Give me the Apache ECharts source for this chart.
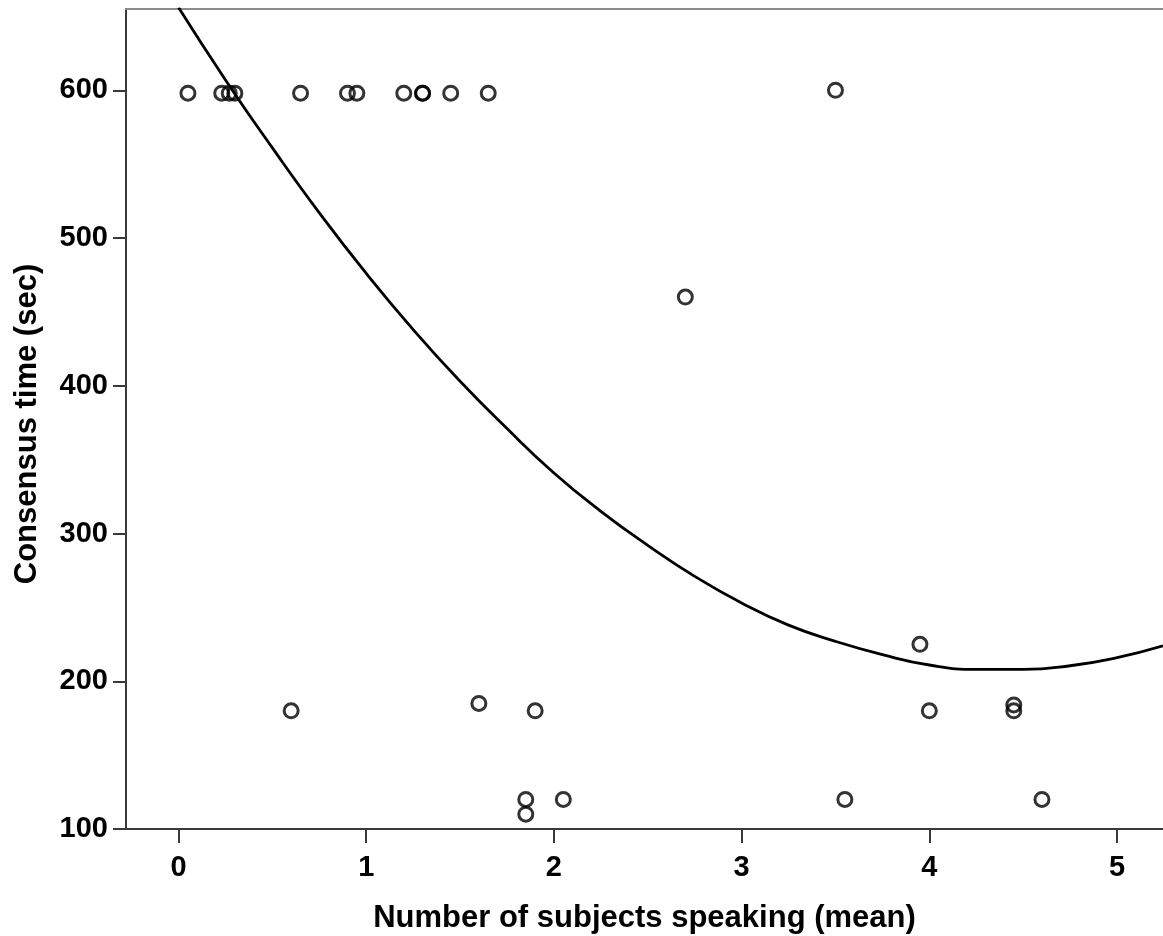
<!DOCTYPE html>
<html>
<head>
<meta charset="utf-8">
<title>Consensus time vs. number of subjects speaking</title>
<script src="https://cdn.jsdelivr.net/npm/echarts@6/dist/echarts.min.js"></script>
<style>
  html, body { margin: 0; padding: 0; background: #fff; }
  #chart { width: 1163px; height: 936px; }
</style>
</head>
<body>
<div id="chart"></div>
<script>
// Observed groups: mean number of subjects speaking vs. time to reach consensus
const speakingMean = [0.05, 0.23, 0.27, 0.30, 0.65, 0.90, 0.95, 1.20, 1.30, 1.30, 1.45, 1.65,
                      3.50, 2.70, 3.95, 0.60, 1.60, 1.90, 1.85, 1.85, 2.05, 3.55, 4.00, 4.45, 4.45, 4.60];
const consensusTime = [598, 598, 598, 598, 598, 598, 598, 598, 598, 598, 598, 598,
                       600, 460, 225, 180, 185, 180, 120, 110, 120, 120, 180, 184, 180, 120];

// Quadratic fit curve, sampled along its length
const fitX = [0.0, 0.25, 0.5, 0.75, 1.0, 1.25, 1.5, 1.75, 2.0, 2.25, 2.5, 2.75,
              3.0, 3.25, 3.5, 3.75, 4.0, 4.25, 4.5, 4.75, 5.0, 5.245];
const fitY = [656, 607, 561, 517, 476, 438, 403, 371, 341, 315, 292, 271,
              253, 238, 227, 218, 211, 208, 208, 210.5, 216, 224];

// Axis tick values
const xTicks = [0, 1, 2, 3, 4, 5];
const yTicks = [100, 200, 300, 400, 500, 600];

const FONT = 'Arial, "Liberation Sans", sans-serif';
const AXIS_COLOR = '#3a3a3a';
const tickText = { fontFamily: FONT, fontSize: 29, fontWeight: 'bold', color: '#000' };
const titleText = { fontFamily: FONT, fontSize: 31, fontWeight: 'bold', color: '#000' };

const chart = echarts.init(document.getElementById('chart'), null, { renderer: 'canvas' });

chart.setOption({
  backgroundColor: '#ffffff',
  animation: false,
  grid: { left: 126, right: 0, top: 9, bottom: 107, containLabel: false, outerBoundsMode: 'none' },
  xAxis: [
    {
      type: 'value',
      min: -0.28,
      max: 5.245,
      name: 'Number of subjects speaking (mean)',
      nameLocation: 'middle',
      nameGap: 74,
      nameTextStyle: titleText,
      axisLine: { show: true, onZero: false, lineStyle: { color: AXIS_COLOR, width: 2 } },
      axisTick: { show: true, length: 14, customValues: xTicks, lineStyle: { color: AXIS_COLOR, width: 2 } },
      axisLabel: Object.assign({ customValues: xTicks, margin: 24 }, tickText),
      splitLine: { show: false }
    },
    {
      type: 'value',
      position: 'top',
      min: -0.28,
      max: 5.245,
      axisLine: { show: true, onZero: false, lineStyle: { color: '#8c8c8c', width: 2 } },
      axisTick: { show: false },
      axisLabel: { show: false },
      splitLine: { show: false }
    }
  ],
  yAxis: {
    type: 'value',
    min: 100,
    max: 655,
    name: 'Consensus time (sec)',
    nameLocation: 'middle',
    nameGap: 83,
    nameRotate: 90,
    nameTextStyle: Object.assign({ padding: [0, 10, 0, 0] }, titleText),
    axisLine: { show: true, onZero: false, lineStyle: { color: AXIS_COLOR, width: 2 } },
    axisTick: { show: true, length: 13, customValues: yTicks, lineStyle: { color: AXIS_COLOR, width: 2 } },
    axisLabel: Object.assign({ customValues: yTicks, margin: 18 }, tickText),
    splitLine: { show: false }
  },
  series: [
    {
      name: 'Fit',
      type: 'line',
      data: fitX.map((x, i) => [x, fitY[i]]),
      smooth: 0.5,
      showSymbol: false,
      symbol: 'none',
      clip: true,
      lineStyle: { color: '#000', width: 2.8 },
      z: 2
    },
    {
      name: 'Groups',
      type: 'scatter',
      data: speakingMean.map((x, i) => [x, consensusTime[i]]),
      symbol: 'circle',
      symbolSize: 14,
      itemStyle: { color: 'rgba(255,255,255,0)', borderColor: '#000', borderWidth: 3 },
      z: 3
    }
  ]
});
</script>
</body>
</html>
